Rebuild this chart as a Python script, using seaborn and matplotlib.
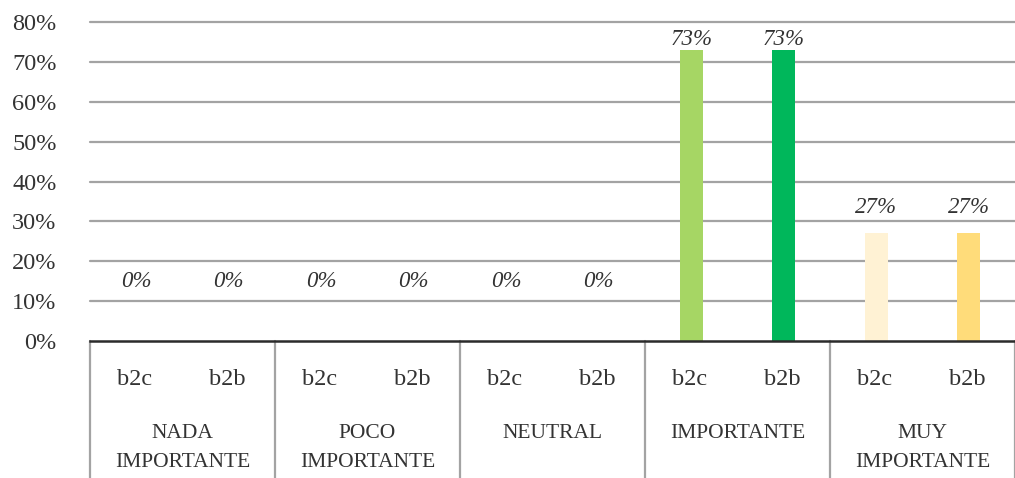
import matplotlib
matplotlib.use("Agg")
import matplotlib.pyplot as plt
import matplotlib.transforms as mtransforms
from matplotlib.lines import Line2D
import seaborn as sns
import pandas as pd

# Data
groups = ["NADA\nIMPORTANTE", "POCO\nIMPORTANTE", "NEUTRAL", "IMPORTANTE", "MUY\nIMPORTANTE"]
segments = ["b2c", "b2b"]
b2c_values = [0, 0, 0, 73, 27]
b2b_values = [0, 0, 0, 73, 27]
y_ticks = [0, 10, 20, 30, 40, 50, 60, 70, 80]

bar_colors = ["#ffffff", "#ffffff", "#ffffff", "#ffffff", "#ffffff", "#ffffff",
              "#a6d664", "#00b75b", "#fff2d4", "#ffdc7a"]

rows = []
for g, v1, v2 in zip(groups, b2c_values, b2b_values):
    rows.append({"slot": f"{g}|b2c", "group": g, "segment": "b2c", "value": v1})
    rows.append({"slot": f"{g}|b2b", "group": g, "segment": "b2b", "value": v2})
df = pd.DataFrame(rows)

sns.set_theme(style="white")
plt.rcParams["font.family"] = ["Liberation Serif", "DejaVu Serif"]
text_color = "#333333"
grid_color = "#a3a3a3"

fig = plt.figure(figsize=(10.15, 4.78), dpi=100)
ax = fig.add_axes([90 / 1015, 1 - 341 / 478, 925 / 1015, 319 / 478])

sns.barplot(data=df, x="slot", y="value", hue="slot", palette=bar_colors,
            width=0.25, legend=False, ax=ax, saturation=1, linewidth=0)

ax.set_xlim(-0.5, len(df) - 0.5)
ax.set_ylim(0, 80)
ax.set_yticks(y_ticks)
ax.set_yticklabels([f"{t}%" for t in y_ticks], fontsize=17.5, color=text_color)
ax.tick_params(axis="y", length=0, pad=24)
ax.set_xticks([])
ax.set_xlabel("")
ax.set_ylabel("")

for t in y_ticks[1:]:
    ax.axhline(t, color=grid_color, linewidth=1.6, zorder=0, clip_on=False)

for side in ["left", "right", "top"]:
    ax.spines[side].set_visible(False)
ax.spines["bottom"].set_color("#2b2b2b")
ax.spines["bottom"].set_linewidth(1.8)

# Value labels above bars
for i, v in enumerate(df["value"]):
    if v == 0:
        ly = 14.8
    elif v > 50:
        ly = v + 2.5
    else:
        ly = v + 6.5
    ax.text(i, ly, f"{v}%", ha="center", va="center", fontsize=16.5,
            style="italic", color=text_color)

# Category labels beneath the axis
trans = mtransforms.blended_transform_factory(ax.transData, ax.transAxes)
for i, seg in enumerate(df["segment"]):
    ax.text(i - 0.02, -0.12, seg, transform=trans, ha="center", va="center",
            fontsize=17.5, color=text_color)
for j, g in enumerate(groups):
    ax.text(2 * j + 0.5, -0.26, g, transform=trans, ha="center", va="top",
            fontsize=15.5, color=text_color, linespacing=1.7)

# Group separators
for k in range(len(groups) + 1):
    x = 2 * k - 0.5
    ax.add_line(Line2D([x, x], [0, -0.45], transform=trans, color=grid_color,
                       linewidth=1.6, clip_on=False))

fig.savefig("out.png", dpi=100)
